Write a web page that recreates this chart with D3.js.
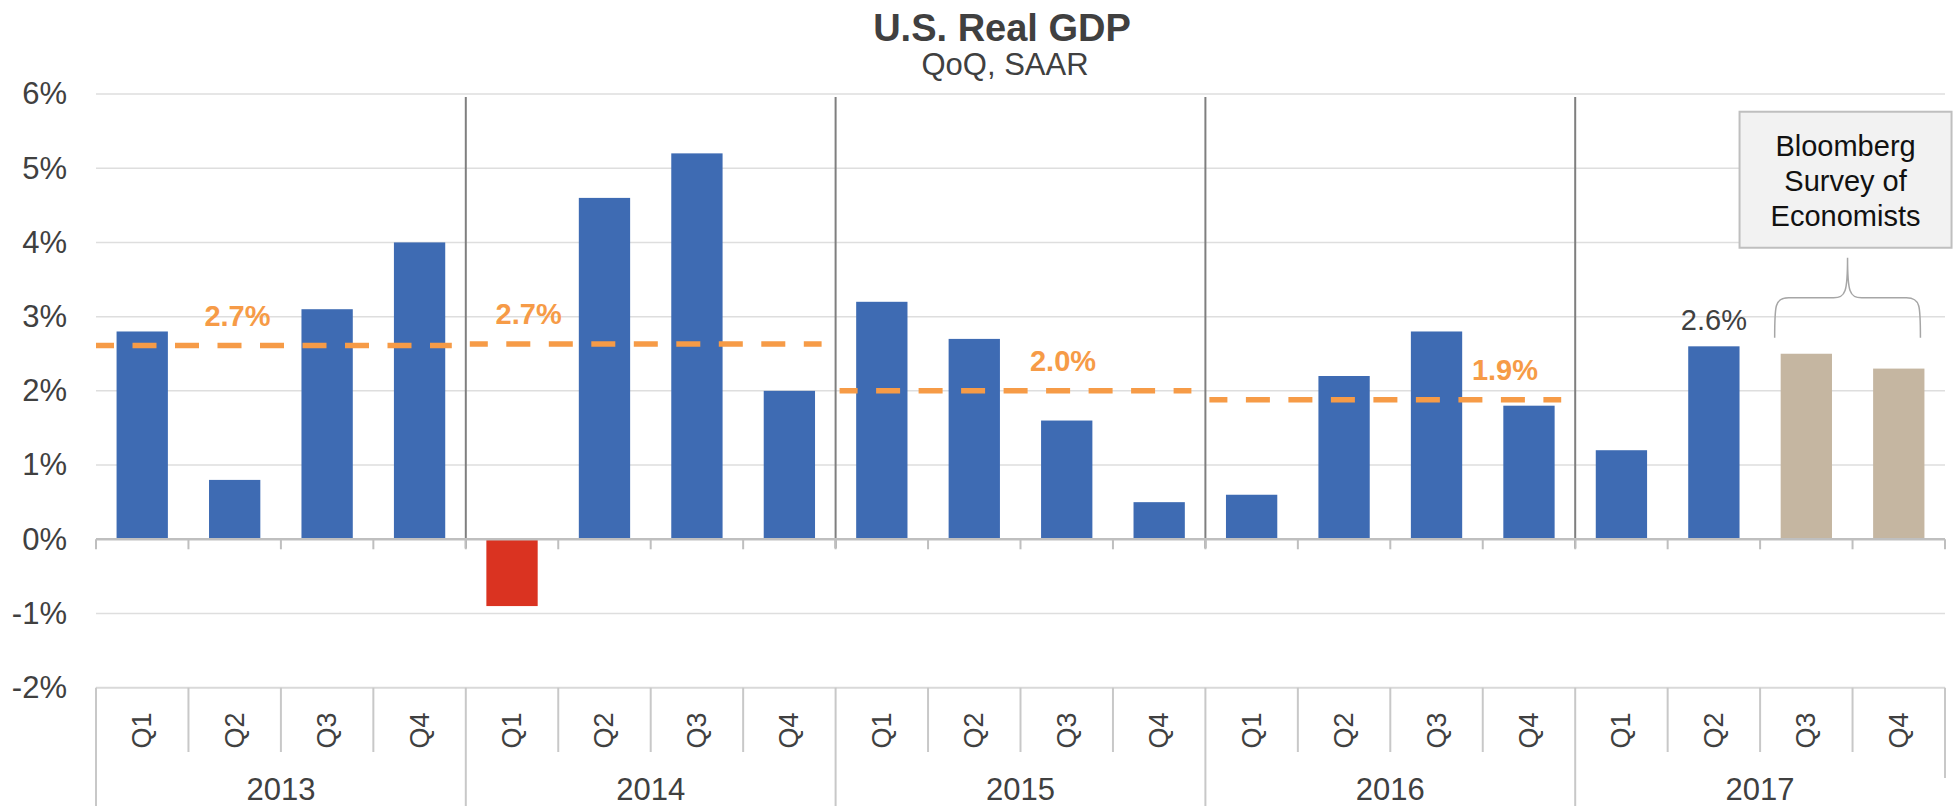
<!DOCTYPE html>
<html>
<head>
<meta charset="utf-8">
<script src="https://cdn.jsdelivr.net/npm/d3@7"></script>
<style>
  html, body { margin: 0; padding: 0; background: #ffffff; }
  svg { display: block; font-family: "Liberation Sans", Arial, sans-serif; }
</style>
</head>
<body>
<svg id="chart" width="1953" height="806"></svg>
<script>
// ---------------- DATA ----------------
const years = ["2013", "2014", "2015", "2016", "2017"];
const quarters = ["Q1", "Q2", "Q3", "Q4"];
const gdpValues = [
  2.8, 0.8, 3.1, 4.0,
  -0.9, 4.6, 5.2, 2.0,
  3.2, 2.7, 1.6, 0.5,
  0.6, 2.2, 2.8, 1.8,
  1.2, 2.6, 2.5, 2.3
];
const isForecast = [
  false, false, false, false,
  false, false, false, false,
  false, false, false, false,
  false, false, false, false,
  false, false, true, true
];
const avgYears = ["2013", "2014", "2015", "2016"];
const avgValues = [2.61, 2.63, 2.0, 1.88];
const avgLabels = ["2.7%", "2.7%", "2.0%", "1.9%"];
const yTicks = [-2, -1, 0, 1, 2, 3, 4, 5, 6];
const lastActualLabel = "2.6%";
const calloutLines = ["Bloomberg", "Survey of", "Economists"];
const titleText = "U.S. Real GDP";
const subtitleText = "QoQ, SAAR";

// ---------------- LAYOUT ----------------
const W = 1953, H = 806;
const plotLeft = 96, plotRight = 1945, plotTop = 94, plotBottom = 687.7;
const blue = "#3E6BB3", red = "#DA3321", tan = "#C5B6A1", orange = "#F69B47";
const textDark = "#404040";
const avgLabelSlot = [1.03, 4.18, 9.96, 14.74]; // label centres in category units

const cats = [];
years.forEach(y => quarters.forEach(q => cats.push({ year: y, q: q, id: y + "-" + q })));
cats.forEach((c, i) => { c.value = gdpValues[i]; c.forecast = isForecast[i]; });

const svg = d3.select("#chart");

const x = d3.scaleBand()
  .domain(cats.map(c => c.id))
  .range([plotLeft, plotRight])
  .paddingInner(0.445)
  .paddingOuter(0.2225);
const step = x.step();
const y = d3.scaleLinear().domain([-2, 6]).range([plotBottom, plotTop]);

const bandStart = id => x(id) - x.paddingOuter() * step;  // left edge of category slot
const yearStart = yr => bandStart(yr + "-Q1");
const yearEnd = yr => bandStart(yr + "-Q4") + step;

// Gridlines
svg.append("g").selectAll("line")
  .data(yTicks.filter(t => t !== 0 && t !== -2))
  .join("line")
  .attr("x1", plotLeft).attr("x2", plotRight)
  .attr("y1", d => y(d)).attr("y2", d => y(d))
  .attr("stroke", "#DEDEDE").attr("stroke-width", 1.5);

// Y axis labels
const yAxis = d3.axisLeft(y).tickValues(yTicks).tickFormat(d => d + "%").tickSize(0).tickPadding(29);
const yg = svg.append("g").attr("transform", `translate(${plotLeft},0)`).call(yAxis);
yg.select(".domain").remove();
yg.selectAll("text").attr("fill", textDark).style("font-size", "31px")
  .style("font-family", "'Liberation Sans', Arial, sans-serif");

// Year separators in plot
svg.append("g").selectAll("line")
  .data(years.slice(1))
  .join("line")
  .attr("x1", d => yearStart(d)).attr("x2", d => yearStart(d))
  .attr("y1", plotTop + 3).attr("y2", y(0) + 9)
  .attr("stroke", "#7F7F7F").attr("stroke-width", 2);

// Bars
svg.append("g").selectAll("rect")
  .data(cats)
  .join("rect")
  .attr("x", d => x(d.id))
  .attr("width", x.bandwidth())
  .attr("y", d => y(Math.max(0, d.value)))
  .attr("height", d => Math.abs(y(d.value) - y(0)))
  .attr("fill", d => d.forecast ? tan : (d.value < 0 ? red : blue));

// Zero axis + ticks
svg.append("line")
  .attr("x1", plotLeft).attr("x2", plotRight)
  .attr("y1", y(0)).attr("y2", y(0))
  .attr("stroke", "#BFBFBF").attr("stroke-width", 2.5);
const boundaries = cats.map(c => bandStart(c.id)).concat([plotRight]);
svg.append("g").selectAll("line")
  .data(boundaries)
  .join("line")
  .attr("x1", d => d).attr("x2", d => d)
  .attr("y1", y(0)).attr("y2", y(0) + 10)
  .attr("stroke", "#BFBFBF").attr("stroke-width", 2);

// Average dashed lines
svg.append("g").selectAll("line")
  .data(avgYears.map((yr, i) => ({ yr, v: avgValues[i], i })))
  .join("line")
  .attr("x1", d => yearStart(d.yr) + (d.i === 0 ? 0 : 4))
  .attr("x2", d => yearEnd(d.yr) - 14)
  .attr("y1", d => y(d.v)).attr("y2", d => y(d.v))
  .attr("stroke", orange).attr("stroke-width", 5.5)
  .attr("stroke-dasharray", "24,18.5")
  .attr("stroke-dashoffset", 6);

svg.append("g").selectAll("text")
  .data(avgLabels.map((t, i) => ({ t, v: avgValues[i], i })))
  .join("text")
  .attr("x", d => plotLeft + (avgLabelSlot[d.i] + 0.5) * step)
  .attr("y", d => y(d.v) - 20)
  .attr("text-anchor", "middle")
  .attr("fill", orange)
  .style("font-size", "29px").style("font-weight", "bold")
  .text(d => d.t);

// Last actual label
const lastActual = cats.filter(c => !c.forecast).slice(-1)[0];
svg.append("text")
  .attr("x", x(lastActual.id) + x.bandwidth() / 2)
  .attr("y", y(lastActual.value) - 16)
  .attr("text-anchor", "middle")
  .attr("fill", textDark)
  .style("font-size", "29px")
  .text(lastActualLabel);

// Category table (bottom)
svg.append("line")
  .attr("x1", plotLeft).attr("x2", plotRight)
  .attr("y1", plotBottom).attr("y2", plotBottom)
  .attr("stroke", "#D9D9D9").attr("stroke-width", 2);
const yearBounds = new Set(years.map(yr => yearStart(yr)));
svg.append("g").selectAll("line")
  .data(boundaries)
  .join("line")
  .attr("x1", d => d).attr("x2", d => d)
  .attr("y1", plotBottom)
  .attr("y2", (d, i) => i === boundaries.length - 1 ? 778 : (yearBounds.has(d) ? H : 752))
  .attr("stroke", "#C8C8C8").attr("stroke-width", 2);

svg.append("g").selectAll("text")
  .data(cats)
  .join("text")
  .attr("transform", d => `translate(${x(d.id) + x.bandwidth() / 2},730.5) rotate(-90)`)
  .attr("text-anchor", "middle")
  .attr("dominant-baseline", "central")
  .attr("fill", textDark)
  .style("font-size", "27px")
  .text(d => d.q);

svg.append("g").selectAll("text")
  .data(years)
  .join("text")
  .attr("x", d => (yearStart(d) + yearEnd(d)) / 2)
  .attr("y", 800)
  .attr("text-anchor", "middle")
  .attr("fill", textDark)
  .style("font-size", "31px")
  .text(d => d);

// Title
svg.append("text").attr("x", 1002).attr("y", 41).attr("text-anchor", "middle")
  .attr("fill", textDark).style("font-size", "38px").style("font-weight", "bold").text(titleText);
svg.append("text").attr("x", 1005).attr("y", 75).attr("text-anchor", "middle")
  .attr("fill", textDark).style("font-size", "31px").text(subtitleText);

// Callout for forecast bars
const fc = cats.filter(c => c.forecast);
const fcLeft = x(fc[0].id) - 6;
const fcRight = x(fc[fc.length - 1].id) + x.bandwidth() - 4;
const fcMid = (fcLeft + fcRight) / 2;
const braceBottom = y(Math.max(...fc.map(c => c.value))) - 16;
const braceBar = braceBottom - 40;
const braceTop = braceBar - 40;
const r = 14;
const bracePath = d3.path();
bracePath.moveTo(fcLeft, braceBottom);
bracePath.bezierCurveTo(fcLeft, braceBar + 8, fcLeft, braceBar, fcLeft + r, braceBar);
bracePath.lineTo(fcMid - r, braceBar);
bracePath.bezierCurveTo(fcMid - 2, braceBar, fcMid, braceBar - 6, fcMid, braceTop);
bracePath.bezierCurveTo(fcMid, braceBar - 6, fcMid + 2, braceBar, fcMid + r, braceBar);
bracePath.lineTo(fcRight - r, braceBar);
bracePath.bezierCurveTo(fcRight, braceBar, fcRight, braceBar + 8, fcRight, braceBottom);
svg.append("path").attr("d", bracePath.toString())
  .attr("fill", "none").attr("stroke", "#A6A6A6").attr("stroke-width", 1.5);

const boxW = 212, boxH = 136;
const boxCx = fcMid - 2;
const boxBottom = braceTop - 10;
svg.append("rect")
  .attr("x", boxCx - boxW / 2).attr("y", boxBottom - boxH)
  .attr("width", boxW).attr("height", boxH)
  .attr("fill", "#F2F2F2").attr("stroke", "#BFBFBF").attr("stroke-width", 2);
svg.append("g").selectAll("text")
  .data(calloutLines)
  .join("text")
  .attr("x", boxCx)
  .attr("y", (d, i) => boxBottom - boxH + 44 + i * 35)
  .attr("text-anchor", "middle")
  .attr("fill", "#111111")
  .style("font-size", "29px")
  .text(d => d);
</script>
</body>
</html>
